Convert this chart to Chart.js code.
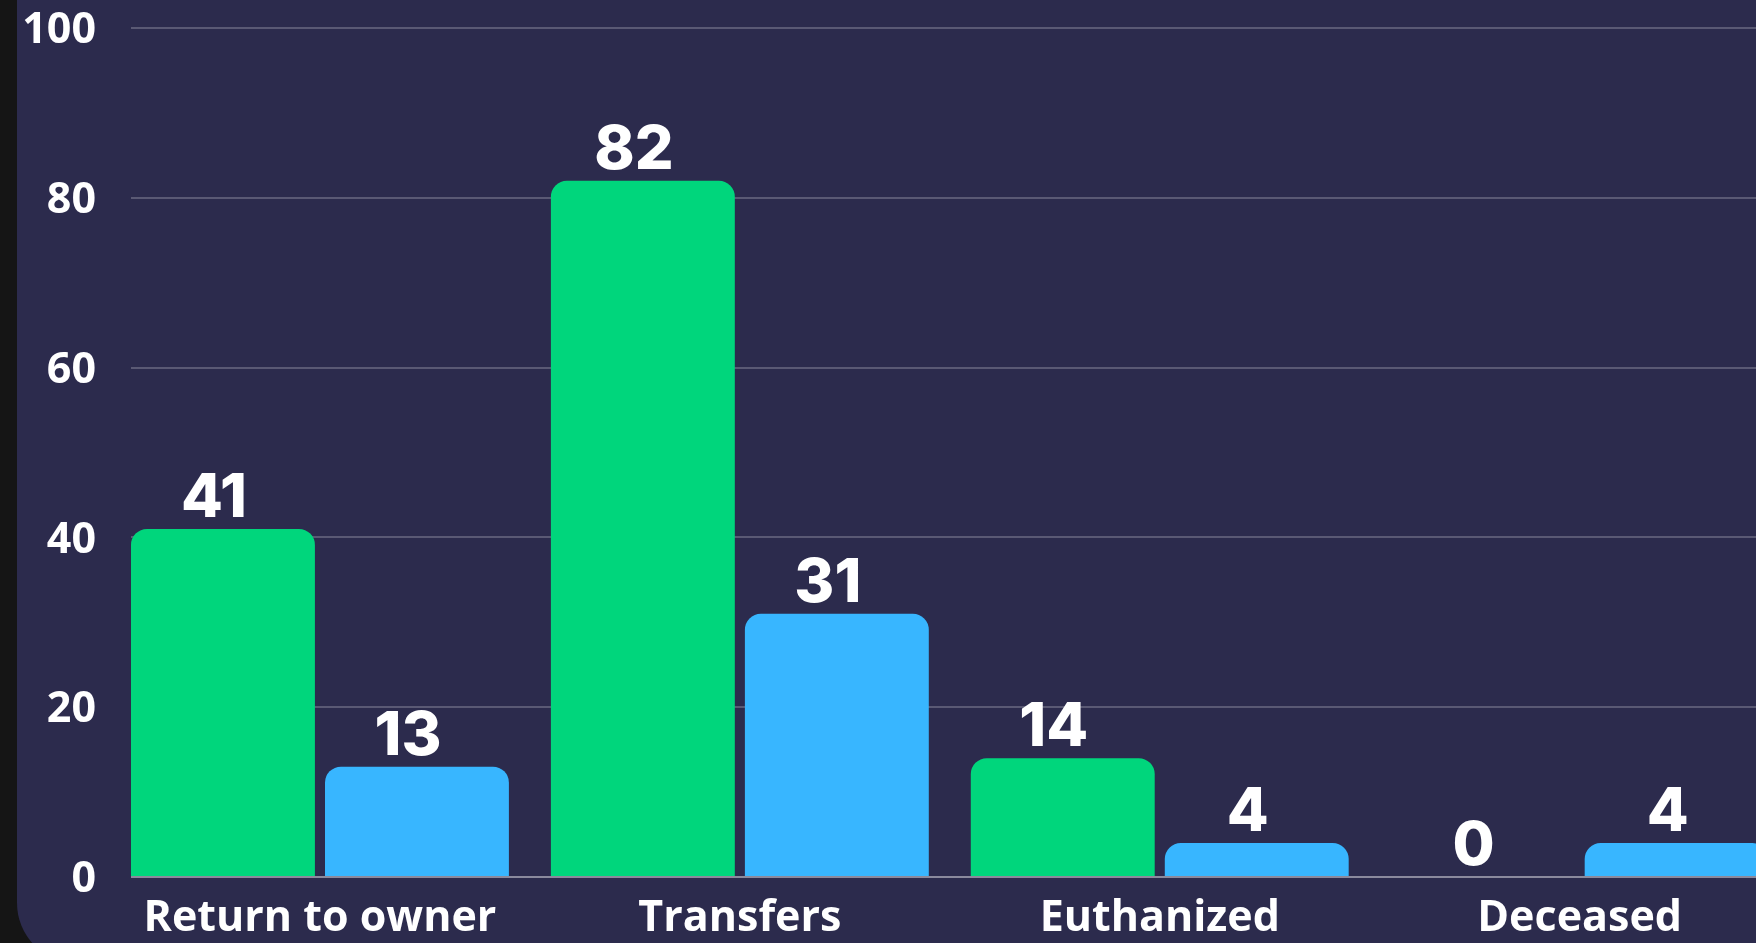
<!DOCTYPE html>
<html><head><meta charset="utf-8">
<script src="https://cdn.jsdelivr.net/npm/chart.js@4.4.1/dist/chart.umd.min.js"></script>
<style>
html,body{margin:0;padding:0;width:1756px;height:943px;overflow:hidden;background:#151515;}
#panel{position:absolute;left:17px;top:-60px;width:1800px;height:1023px;background:#2c2b4d;border-radius:60px;}
#wrap{position:absolute;left:0;top:0;width:1756px;height:943px;}
</style></head><body>
<div id="panel"></div>
<div id="wrap"><canvas id="c" width="1756" height="943"></canvas></div>
<script>
const categories = ['Return to owner', 'Transfers', 'Euthanized', 'Deceased'];
const seriesGreen = [41, 82, 14, 0];
const seriesBlue = [13, 31, 4, 4];
const yTickValues = [0, 20, 40, 60, 80, 100];

const GREEN = '#00d67c';
const BLUE = '#38b6ff';

const valueLabels = {
  id: 'valueLabels',
  afterDatasetsDraw(chart) {
    const ctx = chart.ctx;
    ctx.save();
    ctx.font = '800 61px Inter';
    ctx.fillStyle = '#ffffff';
    ctx.textAlign = 'center';
    ctx.textBaseline = 'alphabetic';
    chart.data.datasets.forEach((ds, di) => {
      const meta = chart.getDatasetMeta(di);
      meta.data.forEach((bar, i) => {
        ctx.fillText(String(ds.data[i].y), bar.x - 9, bar.y - 12);
      });
    });
    ctx.restore();
  }
};

function build() {
  new Chart(document.getElementById('c'), {
    type: 'bar',
    data: {
      datasets: [
        { label: 'A', data: seriesGreen.map((v, i) => ({ x: i, y: v })), backgroundColor: GREEN,
          borderRadius: 16, borderSkipped: 'start', categoryPercentage: 0.924, barPercentage: 0.948 },
        { label: 'B', data: seriesBlue.map((v, i) => ({ x: i, y: v })), backgroundColor: BLUE,
          borderRadius: 16, borderSkipped: 'start', categoryPercentage: 0.924, barPercentage: 0.948 }
      ]
    },
    options: {
      responsive: false,
      animation: false,
      devicePixelRatio: 1,
      layout: { padding: 0 },
      plugins: { legend: { display: false }, tooltip: { enabled: false } },
      scales: {
        x: {
          type: 'linear',
          offset: false,
          min: -0.45,
          max: 3.42,
          grid: { display: false },
          border: { display: false },
          afterBuildTicks: (s) => { s.ticks = categories.map((_, i) => ({ value: i })); },
          afterFit: (s) => { s.height = 66; s.paddingLeft = 0; s.paddingRight = 0; },
          ticks: {
            autoSkip: false,
            maxRotation: 0,
            padding: 8,
            color: '#ffffff',
            font: { family: 'Open Sans', weight: 'bold', size: 43 },
            callback: (v) => categories[v]
          }
        },
        y: {
          min: 0,
          max: 100,
          afterBuildTicks: (s) => { s.ticks = yTickValues.map(v => ({ value: v })); },
          afterFit: (s) => { s.width = 131; s.paddingTop = 28; s.paddingBottom = 0; },
          border: { display: false },
          grid: {
            drawTicks: false,
            lineWidth: 2,
            color: (c) => c.tick && c.tick.value === 0 ? 'rgba(255,255,255,0.45)' : 'rgba(255,255,255,0.22)'
          },
          ticks: {
            padding: 35,
            labelOffset: 3,
            color: '#ffffff',
            font: { family: 'Open Sans', weight: 'bold', size: 43 }
          }
        }
      }
    },
    plugins: [valueLabels]
  });
}

Promise.all([
  document.fonts.load('700 40px "Open Sans"'),
  document.fonts.load('800 61px Inter')
]).then(build, build);
</script>
</body></html>
